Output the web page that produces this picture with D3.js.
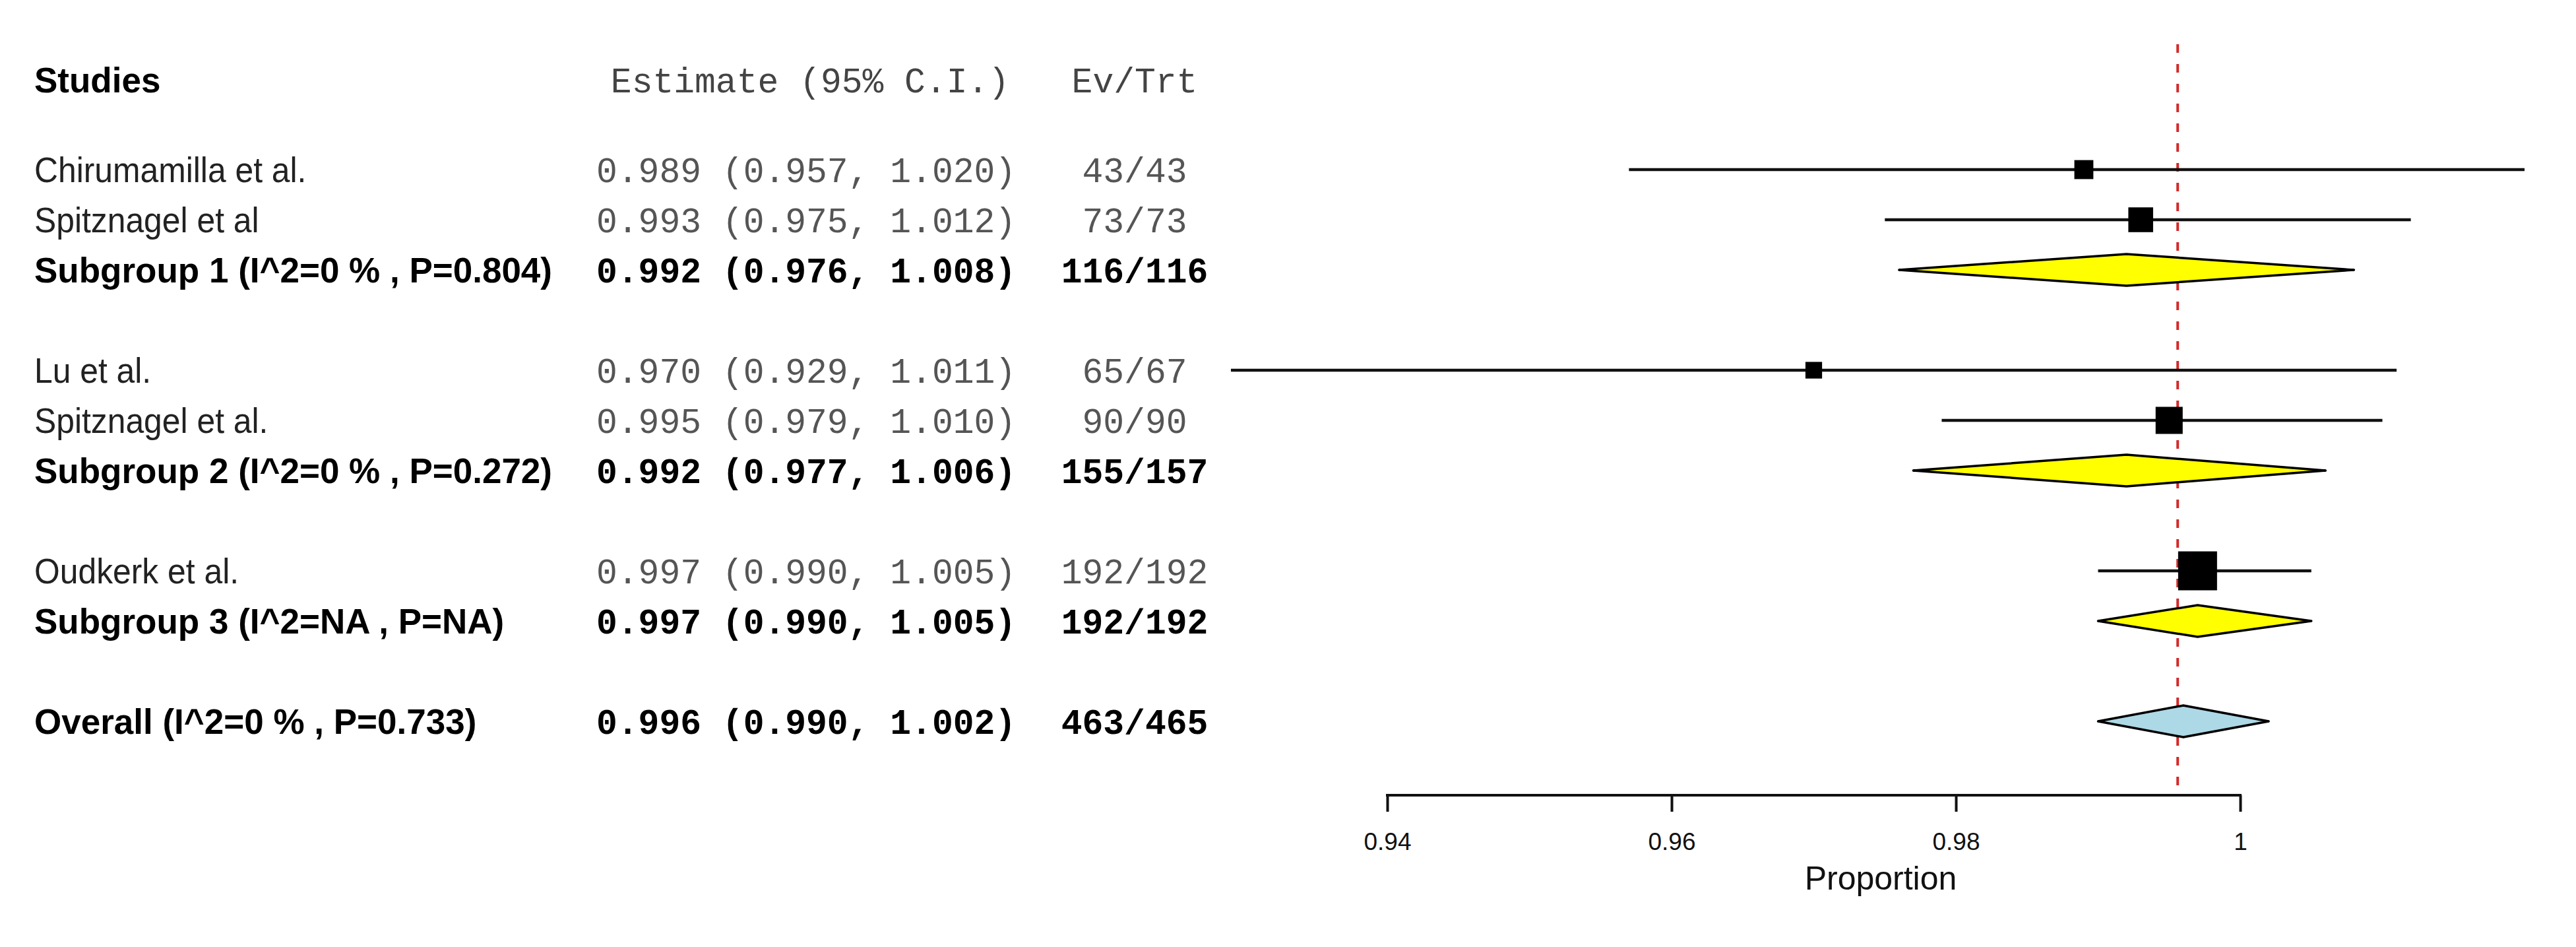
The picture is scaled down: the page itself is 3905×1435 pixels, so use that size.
<!DOCTYPE html>
<html>
<head>
<meta charset="utf-8">
<script src="https://cdn.jsdelivr.net/npm/d3@7"></script>
<style>
  html, body { margin: 0; padding: 0; background: #fff; }
  svg { display: block; }
</style>
</head>
<body>
<div id="chart"></div>
<script>
// ------- data -------
const studies = [
  "Chirumamilla et al.", "Spitznagel et al", "Subgroup 1 (I^2=0 % , P=0.804)",
  "Lu et al.", "Spitznagel et al.", "Subgroup 2 (I^2=0 % , P=0.272)",
  "Oudkerk et al.", "Subgroup 3 (I^2=NA , P=NA)",
  "Overall (I^2=0 % , P=0.733)"
];
const kinds = ["study", "study", "subgroup", "study", "study", "subgroup", "study", "subgroup", "overall"];
const estimates = [0.989, 0.993, 0.992, 0.970, 0.995, 0.992, 0.997, 0.997, 0.996];
const lowers    = [0.957, 0.975, 0.976, 0.929, 0.979, 0.977, 0.990, 0.990, 0.990];
const uppers    = [1.020, 1.012, 1.008, 1.011, 1.010, 1.006, 1.005, 1.005, 1.002];
const events    = [43, 73, 116, 65, 90, 155, 192, 192, 463];
const totals    = [43, 73, 116, 67, 90, 157, 192, 192, 465];
const pooledLine = 0.9956;
const xTicks = [0.94, 0.96, 0.98, 1];
const headers = ["Studies", "Estimate (95% C.I.)", "Ev/Trt"];

(() => {
  const W = 3905, H = 1435;
  const SANS = "'Liberation Sans', Arial, Helvetica, sans-serif";
  const MONO = "'Liberation Mono', 'Courier New', monospace";

  // rows: a blank slot after every subgroup summary
  let slot = 0;
  const data = studies.map((name, i) => {
    const d = {
      name, kind: kinds[i], est: estimates[i], lo: lowers[i], hi: uppers[i],
      ev: events[i], n: totals[i], slot
    };
    slot += kinds[i] === "subgroup" ? 2 : 1;
    return d;
  });

  const svg = d3.select("#chart").append("svg")
    .attr("width", W).attr("height", H)
    .attr("viewBox", `0 0 ${W} ${H}`);

  svg.append("rect").attr("width", W).attr("height", H).attr("fill", "#fff");

  const x = d3.scaleLinear().domain([0.94, 1]).range([2103, 3396]);
  const y = d3.scaleLinear().domain([0, d3.max(data, d => d.slot)]).range([257, 1093]);
  const headerY = 121;
  const axisY = 1205;

  // box size ~ sqrt(precision)
  const prec = d => 3.92 / (d.hi - d.lo);
  const studyRows = data.filter(d => d.kind === "study");
  const box = d3.scaleSqrt()
    .domain([0, d3.max(studyRows, prec)])
    .range([0, 59]);

  // ------- text columns -------
  const colStudy = 52, colEst = 904, colEv = 1720;

  const txt = svg.append("g");
  txt.append("text")
    .attr("x", colStudy).attr("y", headerY).attr("dy", "0.35em")
    .attr("font-family", SANS).attr("font-weight", "bold").attr("font-size", 53)
    .text(headers[0]);
  txt.append("text")
    .attr("x", 1228).attr("y", headerY).attr("dy", "0.35em")
    .attr("text-anchor", "middle")
    .attr("font-family", MONO).attr("font-size", 53).attr("fill", "#444")
    .text(headers[1]);
  txt.append("text")
    .attr("x", colEv).attr("y", headerY).attr("dy", "0.35em")
    .attr("text-anchor", "middle")
    .attr("font-family", MONO).attr("font-size", 53).attr("fill", "#444")
    .text(headers[2]);

  const f3 = d3.format(".3f");
  const rows = txt.selectAll("g.row").data(data).enter().append("g")
    .attr("class", "row")
    .attr("transform", d => `translate(0,${y(d.slot)})`);

  rows.append("text")
    .attr("x", colStudy).attr("dy", "0.35em")
    .attr("font-family", SANS).attr("font-size", 53)
    .attr("font-weight", d => d.kind === "study" ? "normal" : "bold")
    .attr("fill", d => d.kind === "study" ? "#222" : "#000")
    .attr("transform", d => d.kind === "study" ? `translate(${colStudy},0) scale(0.94,1) translate(${-colStudy},0)` : null)
    .text(d => d.name);

  rows.append("text")
    .attr("x", colEst).attr("dy", "0.35em")
    .attr("font-family", MONO).attr("font-size", 53)
    .attr("font-weight", d => d.kind === "study" ? "normal" : "bold")
    .attr("fill", d => d.kind === "study" ? "#555" : "#000")
    .attr("xml:space", "preserve")
    .style("white-space", "pre")
    .text(d => `${f3(d.est)} (${f3(d.lo)}, ${f3(d.hi)})`);

  rows.append("text")
    .attr("x", colEv).attr("dy", "0.35em")
    .attr("text-anchor", "middle")
    .attr("font-family", MONO).attr("font-size", 53)
    .attr("font-weight", d => d.kind === "study" ? "normal" : "bold")
    .attr("fill", d => d.kind === "study" ? "#555" : "#000")
    .text(d => `${d.ev}/${d.n}`);

  // ------- plot -------
  const plot = svg.append("g");

  // reference line (pooled estimate)
  plot.append("line")
    .attr("x1", x(pooledLine)).attr("x2", x(pooledLine))
    .attr("y1", 67).attr("y2", axisY)
    .attr("stroke", "#d42a2a").attr("stroke-width", 4)
    .attr("stroke-dasharray", "13,17");

  // study CIs and boxes
  const st = plot.selectAll("g.study").data(studyRows).enter().append("g")
    .attr("class", "study");
  st.append("line")
    .attr("x1", d => x(d.lo)).attr("x2", d => x(d.hi))
    .attr("y1", d => y(d.slot)).attr("y2", d => y(d.slot))
    .attr("stroke", "#111").attr("stroke-width", 4.5);
  st.append("rect")
    .attr("x", d => x(d.est) - box(prec(d)) / 2)
    .attr("y", d => y(d.slot) - box(prec(d)) / 2)
    .attr("width", d => box(prec(d)))
    .attr("height", d => box(prec(d)))
    .attr("fill", "#000");

  // summary diamonds
  const sums = data.filter(d => d.kind !== "study");
  const dh = 24;
  const sm = plot.selectAll("g.sum").data(sums).enter().append("g").attr("class", "sum");
  sm.append("line")
    .attr("x1", d => x(d.lo)).attr("x2", d => x(d.hi))
    .attr("y1", d => y(d.slot)).attr("y2", d => y(d.slot))
    .attr("stroke", "#000").attr("stroke-width", 4);
  sm.append("path")
    .attr("d", d => {
      const cy = y(d.slot);
      return `M${x(d.lo)},${cy}L${x(d.est)},${cy - dh}L${x(d.hi)},${cy}L${x(d.est)},${cy + dh}Z`;
    })
    .attr("fill", d => d.kind === "overall" ? "#add8e6" : "#ffff00")
    .attr("stroke", "#000").attr("stroke-width", 3.5)
    .attr("stroke-linejoin", "round");

  // ------- axis -------
  const axis = d3.axisBottom(x)
    .tickValues(xTicks)
    .tickFormat(d3.format("~g"))
    .tickSize(25)
    .tickPadding(32)
    .tickSizeOuter(0);

  const ax = svg.append("g")
    .attr("transform", `translate(0,${axisY})`)
    .call(axis);
  ax.select(".domain").remove();
  ax.selectAll(".tick line").attr("stroke", "#111").attr("stroke-width", 4);
  ax.selectAll(".tick text")
    .attr("font-family", SANS).attr("font-size", 37).attr("fill", "#111");
  ax.append("line")
    .attr("x1", x(xTicks[0])).attr("x2", x(xTicks[xTicks.length - 1]))
    .attr("stroke", "#111").attr("stroke-width", 4).attr("stroke-linecap", "square");

  svg.append("text")
    .attr("x", 2851).attr("y", 1330).attr("dy", "0.35em")
    .attr("text-anchor", "middle")
    .attr("font-family", SANS).attr("font-size", 50).attr("fill", "#111")
    .text("Proportion");
})();
</script>
</body>
</html>
